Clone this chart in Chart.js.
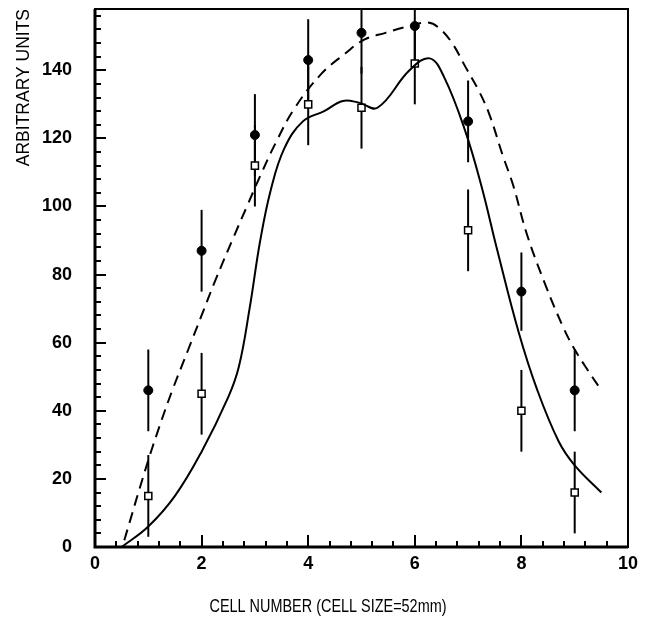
<!DOCTYPE html>
<html>
<head>
<meta charset="utf-8">
<script src="https://cdn.jsdelivr.net/npm/chart.js@4.4.1/dist/chart.umd.min.js"></script>
<style>
  html, body { margin: 0; padding: 0; background: #fff; }
  #wrap { width: 655px; height: 618px; }
</style>
</head>
<body>
<div id="wrap"><canvas id="cellChart"></canvas></div>
<script>
// --- data ---
const cells = [1, 2, 3, 4, 5, 6, 7, 8, 9];
const circleVals = [46, 87, 121, 143, 151, 153, 125, 75, 46];
const circleErr = [12, 12, 12, 12, 12, 12, 12, 11.5, 12];
const squareVals = [15, 45, 112, 130, 129, 142, 93, 40, 16];
const squareErr = [12, 12, 12, 12, 12, 12, 12, 12, 12];

// solid curve
const solidX = [0.5, 1.0, 1.5, 2.0, 2.5, 2.7, 2.9, 3.1, 3.3, 3.55, 3.9, 4.3, 4.65, 4.95, 5.3, 5.9, 6.28, 6.55, 6.95, 7.25, 7.55, 7.95, 8.3, 8.7, 9.0, 9.5];
const solidY = [0, 6, 15, 28, 44, 53, 70, 90, 105, 117, 125, 128, 131, 130.5, 129, 140, 143.5, 138, 122, 106, 87, 63, 46, 31, 24, 16];

// dashed curve
const dashX = [0.55, 0.95, 1.2, 1.45, 1.75, 2.0, 2.25, 2.6, 2.85, 3.1, 3.4, 3.75, 4.25, 4.7, 5.05, 5.45, 5.9, 6.25, 6.45, 6.7, 6.95, 7.2, 7.4, 7.65, 7.85, 8.1, 8.45, 8.8, 9.0, 9.2, 9.5];
const dashY = [2, 23, 35, 46, 58, 68, 78, 91, 100, 109, 119, 129, 139, 145, 149, 151, 153, 154, 152.5, 148, 141, 134, 127, 115, 106, 92, 77, 64, 58, 53, 46];

const xTicks = [0, 2, 4, 6, 8, 10];
const yTicks = [0, 20, 40, 60, 80, 100, 120, 140];
const xTitle = 'CELL NUMBER (CELL SIZE=52mm)';

const FONT = "'Liberation Sans', Arial, sans-serif";

const toPoints = (xs, ys) => xs.map((v, i) => ({ x: v, y: ys[i] }));

// vertical error bars, drawn under the markers
const errorBars = {
    id: 'errorBars',
    beforeDatasetsDraw(chart) {
        const { ctx, chartArea, scales: { x, y } } = chart;
        ctx.save();
        ctx.beginPath();
        ctx.rect(chartArea.left, chartArea.top, chartArea.right - chartArea.left, chartArea.bottom - chartArea.top);
        ctx.clip();
        ctx.strokeStyle = '#000';
        ctx.lineWidth = 2;
        [[circleVals, circleErr], [squareVals, squareErr]].forEach(([vals, errs]) => {
            vals.forEach((v, i) => {
                const px = x.getPixelForValue(cells[i]);
                ctx.beginPath();
                ctx.moveTo(px, y.getPixelForValue(v - errs[i]));
                ctx.lineTo(px, y.getPixelForValue(v + errs[i]));
                ctx.stroke();
            });
        });
        ctx.restore();
    }
};

// frame, inward ticks on the bottom and left edges, and the x title
const frameTicks = {
    id: 'frameTicks',
    afterDraw(chart) {
        const { ctx, chartArea: a, scales: { x, y } } = chart;
        ctx.save();
        ctx.strokeStyle = '#000';
        ctx.lineWidth = 2;
        ctx.strokeRect(a.left, a.top, a.right - a.left, a.bottom - a.top);
        // heavier left / bottom edges
        ctx.lineWidth = 3;
        ctx.beginPath();
        ctx.moveTo(a.left, a.top);
        ctx.lineTo(a.left, a.bottom);
        ctx.lineTo(a.right, a.bottom);
        ctx.stroke();
        ctx.lineWidth = 2;
        for (let v = 0; v <= 10.001; v += 0.4) {
            const major = Math.abs(v / 2 - Math.round(v / 2)) < 0.01;
            const px = Math.round(x.getPixelForValue(v));
            ctx.beginPath();
            ctx.moveTo(px, a.bottom);
            ctx.lineTo(px, a.bottom - (major ? 12 : 6));
            ctx.stroke();
        }
        for (let v = 0; v <= 156; v += 4) {
            const major = v % 20 === 0;
            const py = Math.round(y.getPixelForValue(v));
            ctx.beginPath();
            ctx.moveTo(a.left, py);
            ctx.lineTo(a.left + (major ? 11 : 6), py);
            ctx.stroke();
        }

        // x title, narrow lettering like the original
        ctx.font = `18px ${FONT}`;
        ctx.fillStyle = '#000';
        ctx.textAlign = 'center';
        ctx.textBaseline = 'middle';
        const w = ctx.measureText(xTitle).width;
        ctx.translate(328, 607);
        ctx.scale(237 / w, 1);
        ctx.fillText(xTitle, 0, 0);
        ctx.restore();
    }
};

const ctx = document.getElementById('cellChart').getContext('2d');
new Chart(ctx, {
    type: 'scatter',
    data: {
        datasets: [
            {
                label: 'fit',
                data: toPoints(solidX, solidY),
                showLine: true,
                borderColor: '#000',
                borderWidth: 2,
                pointRadius: 0,
                tension: 0.4
            },
            {
                label: 'fit dashed',
                data: toPoints(dashX, dashY),
                showLine: true,
                borderColor: '#000',
                borderWidth: 2,
                borderDash: [11, 7],
                pointRadius: 0,
                tension: 0.4
            },
            {
                label: 'circles',
                data: toPoints(cells, circleVals),
                pointStyle: 'circle',
                pointRadius: 4.5,
                backgroundColor: '#000',
                borderColor: '#000',
                borderWidth: 1
            },
            {
                label: 'squares',
                data: toPoints(cells, squareVals),
                pointStyle: 'rect',
                pointRadius: 5,
                backgroundColor: '#fff',
                borderColor: '#000',
                borderWidth: 1.5
            }
        ]
    },
    options: {
        responsive: true,
        maintainAspectRatio: false,
        animation: false,
        layout: { padding: { top: 9, right: 27, bottom: 45, left: 0 } },
        plugins: {
            legend: { display: false },
            tooltip: { enabled: false }
        },
        scales: {
            x: {
                type: 'linear',
                min: 0,
                max: 10,
                afterBuildTicks: s => { s.ticks = xTicks.map(v => ({ value: v })); },
                afterFit: s => { s.height = 26; s.paddingLeft = 0; s.paddingRight = 0; },
                grid: { display: false, drawTicks: false },
                border: { display: false },
                ticks: { color: '#000', padding: 6, font: { family: FONT, size: 18, weight: 'bold' } }
            },
            y: {
                type: 'linear',
                min: 0,
                max: 158,
                afterBuildTicks: s => { s.ticks = yTicks.map(v => ({ value: v })); },
                afterFit: s => { s.width = 95; s.paddingTop = 0; s.paddingBottom = 0; },
                grid: { display: false, drawTicks: false },
                border: { display: false },
                ticks: { color: '#000', padding: 23, font: { family: FONT, size: 18, weight: 'bold' } },
                title: {
                    display: true,
                    text: 'ARBITRARY UNITS',
                    align: 'end',
                    color: '#000',
                    font: { family: FONT, size: 17.5 },
                    padding: { top: 14, bottom: 0 }
                }
            }
        }
    },
    plugins: [errorBars, frameTicks]
});
</script>
</body>
</html>
